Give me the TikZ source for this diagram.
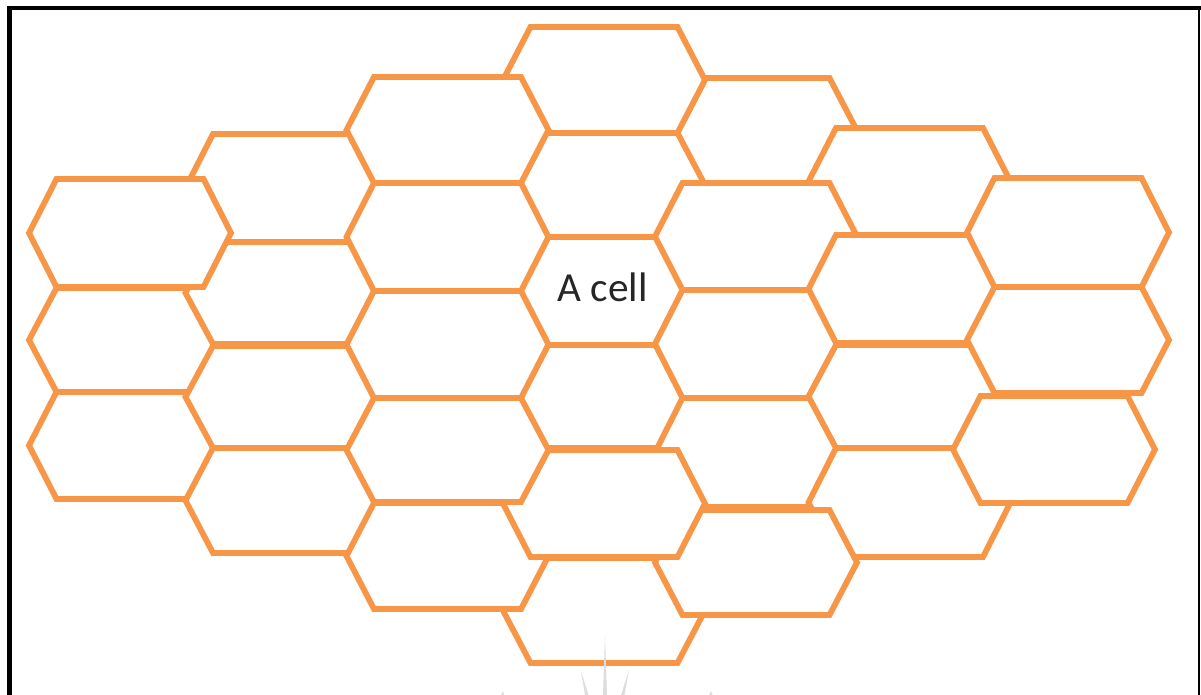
\documentclass[tikz,border=0pt]{standalone}
\usepackage{fontspec}
\newfontfamily\cellfont{Carlito}
\definecolor{hexorange}{HTML}{F79646}
\definecolor{wmgray}{HTML}{DDDDDD}
\tikzset{
  cell/.style={draw=hexorange, fill=white, line width=3.3pt, line join=miter},
  celltext/.style={font=\cellfont\fontsize{23.5}{28}\selectfont, text=black!85, inner sep=0pt},
  frameline/.style={draw=black, line width=2.3pt},
  wmark/.style={fill=wmgray, draw=none}
}
% #1 name, #2 centre x, #3 top y, #4 bottom y  (pixel units)
\newcommand{\hexcell}[4]{%
  \coordinate (#1) at (#2,{(#3+#4)/2});
  \path[cell] ({#2-101},{(#3+#4)/2}) -- ({#2-73.5},#3) -- ({#2+73.5},#3)
    -- ({#2+101},{(#3+#4)/2}) -- ({#2+73.5},#4) -- ({#2-73.5},#4) -- cycle;
}
\begin{document}
\begin{tikzpicture}[x=0.02cm,y=-0.02cm]
\useasboundingbox (0,0) rectangle (1201,695);
\fill[white] (0,0) rectangle (1201,695);
% frame
\draw[frameline] (9.5,695) -- (9.5,8) -- (1201,8);
\draw[draw=black, line width=1.1pt] (1199,8) -- (1199,695);
% hexagons, back to front
\hexcell{A2}{130}{288}{392}
\hexcell{A3}{130}{392}{499}
\hexcell{B1}{286.5}{134}{242}
\hexcell{B2}{286.5}{242}{344}
\hexcell{B3}{286.5}{346}{448}
\hexcell{B4}{286.5}{448}{553}
\hexcell{A1}{130}{179}{287}
\hexcell{E1}{756}{78}{183}
\hexcell{D1}{604}{27}{133}
\hexcell{D2}{604}{133}{237}
\hexcell{D3}{604}{237}{345}
\hexcell{D4}{604}{345}{448}
\hexcell{F1}{909.5}{128}{235}
\hexcell{E2}{756}{183}{290}
\hexcell{E3}{756}{290}{398}
\hexcell{E4}{756}{398}{507}
\hexcell{F2}{909.5}{235}{343}
\hexcell{F3}{909.5}{345}{448}
\hexcell{G1}{1068}{178}{287}
\hexcell{G2}{1068}{287}{393}
\hexcell{F4}{909.5}{448}{557}
\hexcell{G3}{1054}{396}{503}
\hexcell{D6}{604}{558}{663}
\hexcell{C5}{447.5}{503}{609}
\hexcell{E5}{756}{510}{615}
\hexcell{D5}{604}{450}{557}
\hexcell{C1}{447.5}{77}{183}
\hexcell{C2}{447.5}{183}{291}
\hexcell{C3}{447.5}{291}{398}
\hexcell{C4}{447.5}{398}{502}
% label
\node[celltext, anchor=base] (label) at (602.5,302) {A cell};
% faint watermark at the bottom
\fill[wmark] (603,695) -- (605,636) -- (607,695) -- cycle;
\fill[wmark] (585,695) -- (581,671) -- (588.5,695) -- cycle;
\fill[wmark] (621,695) -- (629,670) -- (624.5,695) -- cycle;
\fill[wmark] (501,695) -- (503,691) -- (504,695) -- cycle;
\fill[wmark] (709,695) -- (711,691) -- (712.5,695) -- cycle;
\end{tikzpicture}
\end{document}
